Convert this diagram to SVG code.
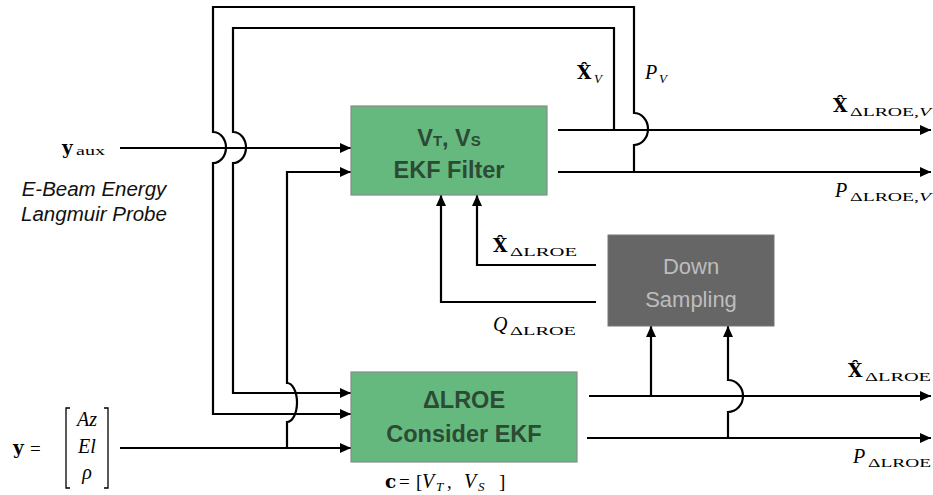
<svg xmlns="http://www.w3.org/2000/svg" width="933" height="495" viewBox="0 0 933 495">
<defs>
<marker id="ah" markerUnits="userSpaceOnUse" markerWidth="12" markerHeight="10" refX="11" refY="5" orient="auto">
<path d="M0,0 L11,5 L0,10 z" fill="#000"/>
</marker>
<style>
.w{fill:none;stroke:#000;stroke-width:2.2}
.a{marker-end:url(#ah)}
.box{fill:#66b97e;stroke:#8a8a8a;stroke-width:1.2}
.bt{font-family:"Liberation Sans",Arial,sans-serif;font-weight:bold;font-size:23.5px;fill:#2d4a35;text-anchor:middle}
.ds{fill:#666;stroke:#777;stroke-width:1}
.dt{font-family:"Liberation Sans",Arial,sans-serif;font-size:22px;fill:#bdbdbd;text-anchor:middle}
.m{font-family:"Liberation Serif","DejaVu Serif","Times New Roman",serif;font-size:19px;fill:#000}
.mb{font-family:"DejaVu Serif","Liberation Serif",serif;font-size:18.5px;font-weight:bold;fill:#000}
.s{font-family:"Liberation Serif","Times New Roman",serif;font-size:13.5px;fill:#000}
.si{font-family:"Liberation Serif","Times New Roman",serif;font-size:13px;font-style:italic;fill:#000}
.it{font-family:"Liberation Serif","Times New Roman",serif;font-style:italic;font-size:20px;fill:#000}
.lab{font-family:"Liberation Sans",Arial,sans-serif;font-style:italic;font-size:20.5px;fill:#111;text-anchor:middle}
</style>
</defs>

<g id="connectors">
<path class="w a" d="M634,172 V145 A14,16 0 0 0 634,113 V7 H213 V132 A13,15.5 0 0 1 213,163 V414 H351"/>
<path class="w a" d="M614,130 V28 H233 V132 A13,15.5 0 0 1 233,163 V393 H351"/>
<path class="w a" d="M120,148 H351"/>
<path class="w a" d="M120,448 H351"/>
<path class="w a" d="M287,448 V422 A10,19.5 0 0 0 287,383 V172 H351"/>
<path class="w a" d="M558,130 H931"/>
<path class="w a" d="M558,172 H931"/>
<path class="w a" d="M589,396 H931"/>
<path class="w a" d="M587,438 H931"/>
<path class="w a" d="M651,396 V326"/>
<path class="w a" d="M728,438 V412 A15,16 0 0 0 728,380 V326"/>
<path class="w a" d="M596,265 H477 V195"/>
<path class="w a" d="M596,302 H441 V195"/>
</g>

<g id="ekf-filter">
<rect class="box" x="351" y="106" width="196" height="89"/>
<text class="bt" x="449" y="146">V<tspan font-size="15">T</tspan>, V<tspan font-size="15">S</tspan></text>
<text class="bt" x="449" y="178">EKF Filter</text>
</g>

<g id="lroe-ekf">
<rect class="box" x="351" y="372" width="226" height="90"/>
<text class="bt" x="464" y="408">ΔLROE</text>
<text class="bt" x="464" y="442">Consider EKF</text>
</g>

<g id="down-sampling">
<rect class="ds" x="608" y="235" width="166" height="91"/>
<text class="dt" x="691" y="274">Down</text>
<text class="dt" x="691" y="307">Sampling</text>
</g>

<g id="labels">
<text class="mb" x="62" y="154">y</text><text class="s" x="76" y="155" textLength="29" lengthAdjust="spacingAndGlyphs">aux</text>
<text class="lab" x="94" y="196">E-Beam Energy</text>
<text class="lab" x="94" y="221">Langmuir Probe</text>

<text class="mb" x="577" y="79">X̂</text><text class="si" x="594" y="83">V</text>
<text class="it" x="645" y="79">P</text><text class="si" x="659" y="83">V</text>

<text class="mb" x="833" y="112">X̂</text><text class="s" x="850" y="116" textLength="81" lengthAdjust="spacingAndGlyphs">ΔLROE,<tspan font-style="italic">V</tspan></text>
<text class="it" x="835" y="197">P</text><text class="s" x="850" y="201" textLength="81" lengthAdjust="spacingAndGlyphs">ΔLROE,<tspan font-style="italic">V</tspan></text>

<text class="mb" x="493" y="252">X̂</text><text class="s" x="510" y="256" textLength="67" lengthAdjust="spacingAndGlyphs">ΔLROE</text>
<text class="it" x="493" y="331">Q</text><text class="s" x="510" y="335" textLength="66" lengthAdjust="spacingAndGlyphs">ΔLROE</text>

<text class="mb" x="848" y="377">X̂</text><text class="s" x="865" y="381" textLength="66" lengthAdjust="spacingAndGlyphs">ΔLROE</text>
<text class="it" x="853" y="463">P</text><text class="s" x="868" y="467" textLength="63" lengthAdjust="spacingAndGlyphs">ΔLROE</text>

<g id="consider-params">
<text class="mb" x="385" y="488">c</text>
<text class="m" x="399" y="488">=</text>
<text class="m" x="416" y="488">[</text>
<text class="it" x="422" y="488">V</text><text class="si" x="436" y="491" font-size="12">T</text>
<text class="m" x="447" y="488">,</text>
<text class="it" x="464" y="488">V</text><text class="si" x="478" y="491" font-size="12">S</text>
<text class="m" x="499" y="488">]</text>
</g>

<text class="mb" x="13" y="454" font-size="19">y</text><text class="m" x="30" y="455" font-size="24">=</text>
<path d="M70,408 H66 V488 H70 M104,408 H108 V488 H104" fill="none" stroke="#000" stroke-width="1.3"/>
<text class="it" x="87" y="426" text-anchor="middle">Az</text>
<text class="it" x="87" y="453" text-anchor="middle">El</text>
<text class="it" x="87" y="479" text-anchor="middle">ρ</text>
</g>
</svg>
